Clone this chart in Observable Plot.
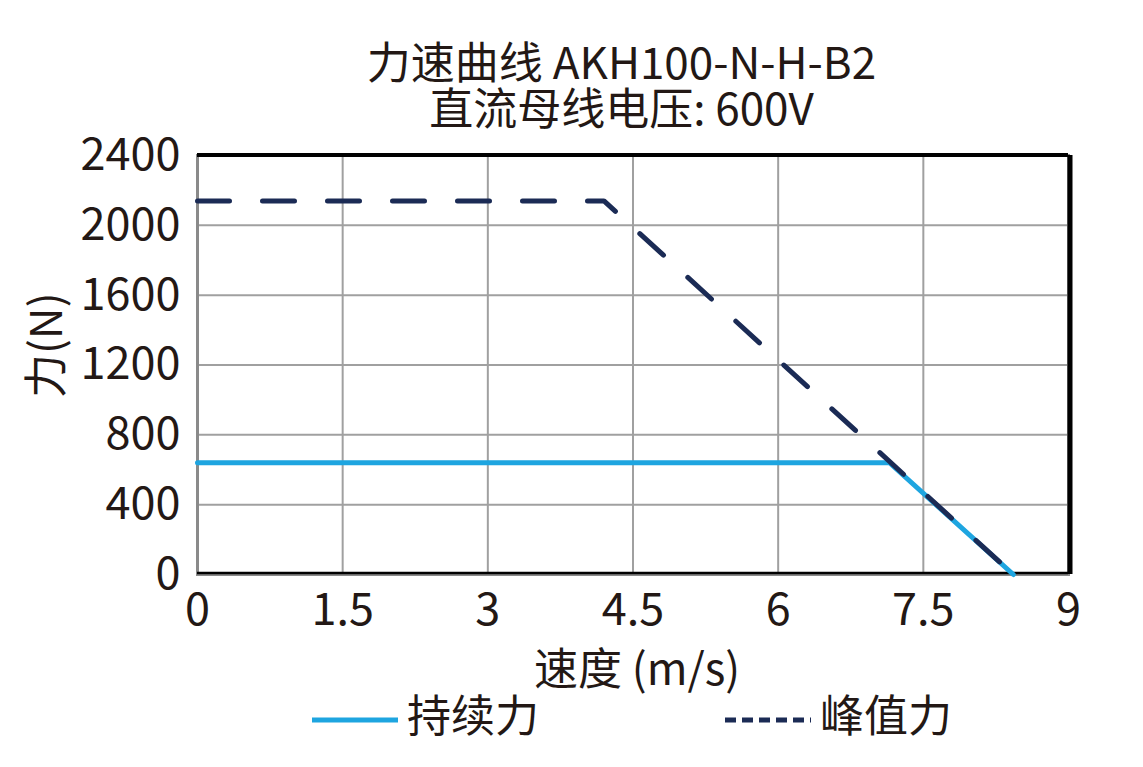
<!DOCTYPE html>
<html>
<head>
<meta charset="utf-8">
<script src="https://cdn.jsdelivr.net/npm/d3@7"></script>
<script src="https://cdn.jsdelivr.net/npm/@observablehq/plot@0.6"></script>
<style>
  body { margin: 0; background: #fff; }
  #wrap { position: relative; width: 1143px; height: 767px; font-family: "Noto Sans CJK SC", sans-serif; color: #231815; }
  .t { position: absolute; left: 100px; width: 1043px; text-align: center; font-size: 44px; line-height: 1; }
  #chart { position: absolute; top: 0; left: 0; }
  .leg { position: absolute; font-size: 44px; line-height: 1; top: 691px; }
  .sw { position: absolute; top: 710px; }
</style>
</head>
<body>
<div id="wrap">
  <div id="chart"></div>
  <div class="t" style="top:38px">力速曲线 AKH100-N-H-B2</div>
  <div class="t" style="top:84px">直流母线电压: 600V</div>
  <svg class="sw" style="left:312px" width="86" height="20"><line x1="0" x2="86" y1="10" y2="10" stroke="#1ea5e0" stroke-width="5"/></svg>
  <div class="leg" style="left:407px">持续力</div>
  <svg class="sw" style="left:725px" width="86" height="20"><line x1="0" x2="86" y1="10" y2="10" stroke="#1b2b55" stroke-width="5" stroke-dasharray="11 6"/></svg>
  <div class="leg" style="left:820px">峰值力</div>
</div>
<script>
const speedCont = [0, 7.15, 8.43];
const forceCont = [640, 640, 0];
const speedPeak = [0, 4.2, 8.43];
const forcePeak = [2140, 2140, 0];
const xTicks = [0, 1.5, 3, 4.5, 6, 7.5, 9];
const yTicks = [0, 400, 800, 1200, 1600, 2000, 2400];
const xLabel = "速度 (m/s)";
const yLabel = "力(N)";

const contData = speedCont.map((s, i) => ({speed: s, force: forceCont[i]}));
const peakData = speedPeak.map((s, i) => ({speed: s, force: forcePeak[i]}));

const font = "Noto Sans CJK SC";
const chart = Plot.plot({
  width: 1143,
  height: 700,
  marginTop: 155,
  marginBottom: 126,
  marginLeft: 197,
  marginRight: 75,
  style: {fontFamily: font, color: "#231815", background: "transparent", overflow: "visible"},
  x: {domain: [0, 9]},
  y: {domain: [0, 2400]},
  marks: [
    Plot.gridX(xTicks, {stroke: "#a0a0a0", strokeOpacity: 1, strokeWidth: 2}),
    Plot.gridY(yTicks, {stroke: "#a0a0a0", strokeOpacity: 1, strokeWidth: 2}),
    Plot.frame({stroke: "#8a8a8a", strokeWidth: 3}),
    Plot.ruleY([2400], {stroke: "#000", strokeWidth: 4, dy: -0.5}),
    Plot.ruleX([9], {stroke: "#000", strokeWidth: 5, dx: 1.5}),
    Plot.ruleY([0], {stroke: "#000", strokeWidth: 2.5, dy: -1.5}),
    Plot.axisX({ticks: xTicks, tickFormat: d => String(d), tickSize: 0, tickPadding: 19, fontSize: 45, label: null, fill: "#231815"}),
    Plot.axisY({ticks: yTicks, tickFormat: d => String(d), tickSize: 0, tickPadding: 17, fontSize: 45, label: null, fill: "#231815"}),
    Plot.line(contData, {x: "speed", y: "force", stroke: "#1ea5e0", strokeWidth: 5}),
    Plot.line(peakData, {x: "speed", y: "force", stroke: "#1b2b55", strokeWidth: 5, strokeDasharray: "32 33", strokeLinecap: "round"}),
    Plot.text([xLabel], {frameAnchor: "bottom", text: d => d, dx: 4, dy: 96, fontSize: 44, lineAnchor: "middle", fill: "#231815"}),
    Plot.text([yLabel], {frameAnchor: "left", text: d => d, dx: -150, dy: 33, rotate: -90, fontSize: 44, lineAnchor: "middle", fill: "#231815"})
  ]
});
document.getElementById("chart").appendChild(chart);
</script>
</body>
</html>
